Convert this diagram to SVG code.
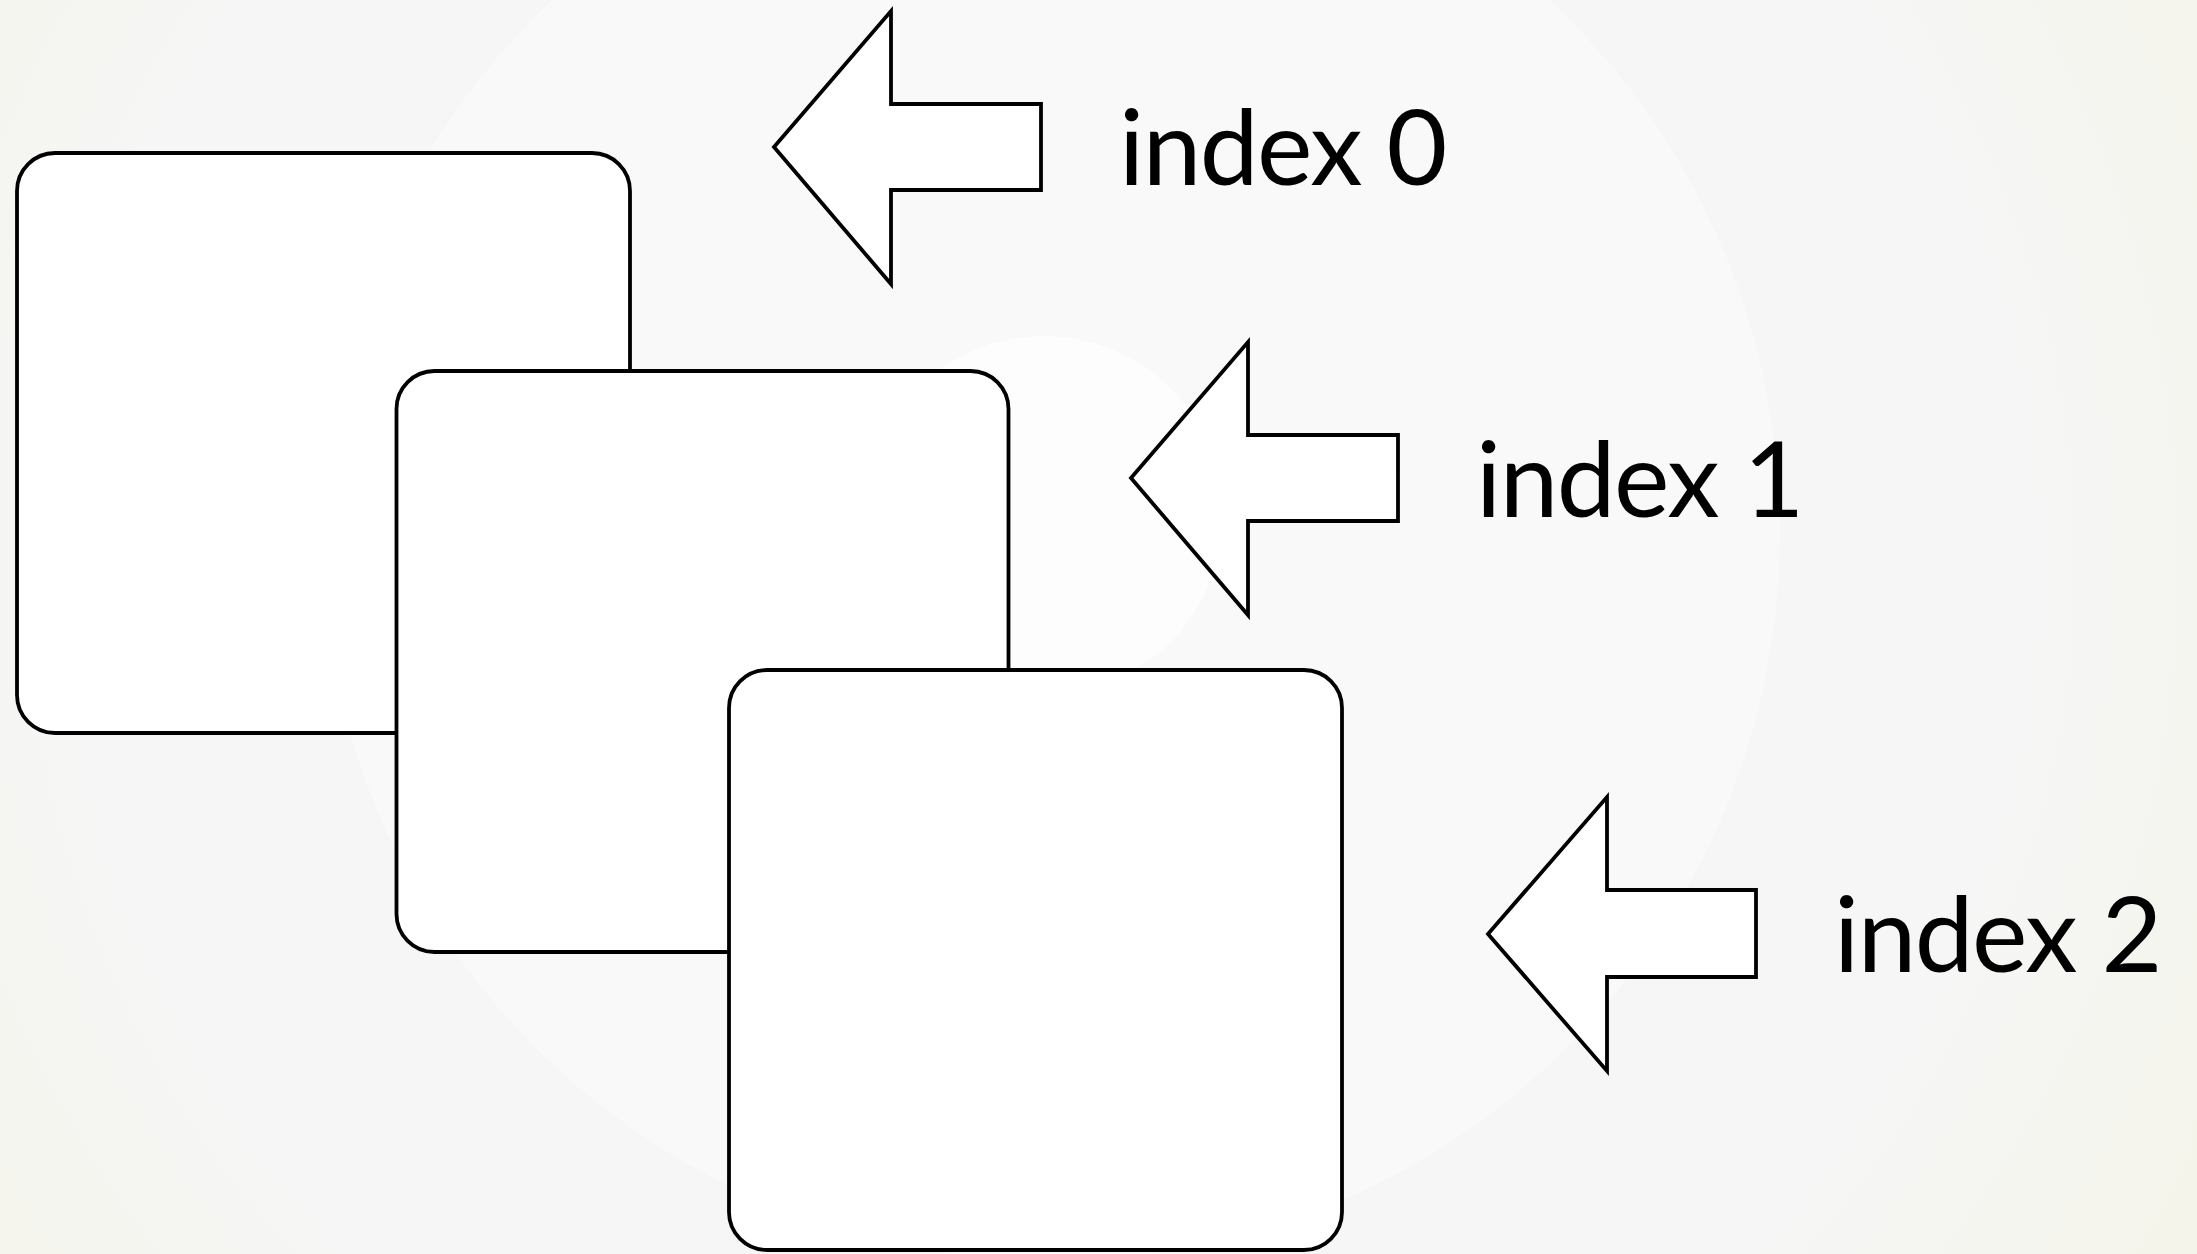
<svg xmlns="http://www.w3.org/2000/svg" width="2197" height="1254" viewBox="0 0 2197 1254">
<style>
.card{fill:#ffffff;stroke:#000000;stroke-width:3.8}
.arrow{fill:#ffffff;stroke:#000000;stroke-width:3.8;stroke-linejoin:miter}
.label{font-family:Lato,"Liberation Sans",sans-serif;font-size:105px;letter-spacing:-1.5px;fill:#000000}
</style>
<defs>
<radialGradient id="bg" cx="1050" cy="560" r="1300" gradientUnits="userSpaceOnUse">
<stop offset="0" stop-color="#f6f6f6"/>
<stop offset="0.75" stop-color="#f6f6f6"/>
<stop offset="1" stop-color="#f4f4eb"/>
</radialGradient>
</defs>
<g id="background">
<rect x="0" y="0" width="2197" height="1254" fill="url(#bg)"/>
<circle cx="1051" cy="532" r="729" fill="#f9f9f9"/>
<circle cx="1044" cy="515" r="179" fill="#fdfdfd"/>
</g>
<g id="card0"><rect class="card" x="17" y="153" width="613" height="580" rx="38" ry="38"/></g>
<g id="card1"><rect class="card" x="396.5" y="371" width="612" height="581" rx="38" ry="38"/></g>
<g id="card2"><rect class="card" x="729" y="670" width="613" height="580" rx="38" ry="38"/></g>
<g id="connectors"></g>
<g id="index0">
<polygon class="arrow" points="774,147 891,11 891,104 1041,104 1041,190 891,190 891,284"/>
<text class="label" x="1119" y="185">index 0</text>
</g>
<g id="index1">
<polygon class="arrow" points="1131,478 1248,342 1248,435 1398,435 1398,521 1248,521 1248,615"/>
<text class="label" x="1476" y="517">index 1</text>
</g>
<g id="index2">
<polygon class="arrow" points="1488,934 1607,797 1607,890 1756,890 1756,977 1607,977 1607,1071"/>
<text class="label" x="1834" y="972">index 2</text>
</g>
</svg>
